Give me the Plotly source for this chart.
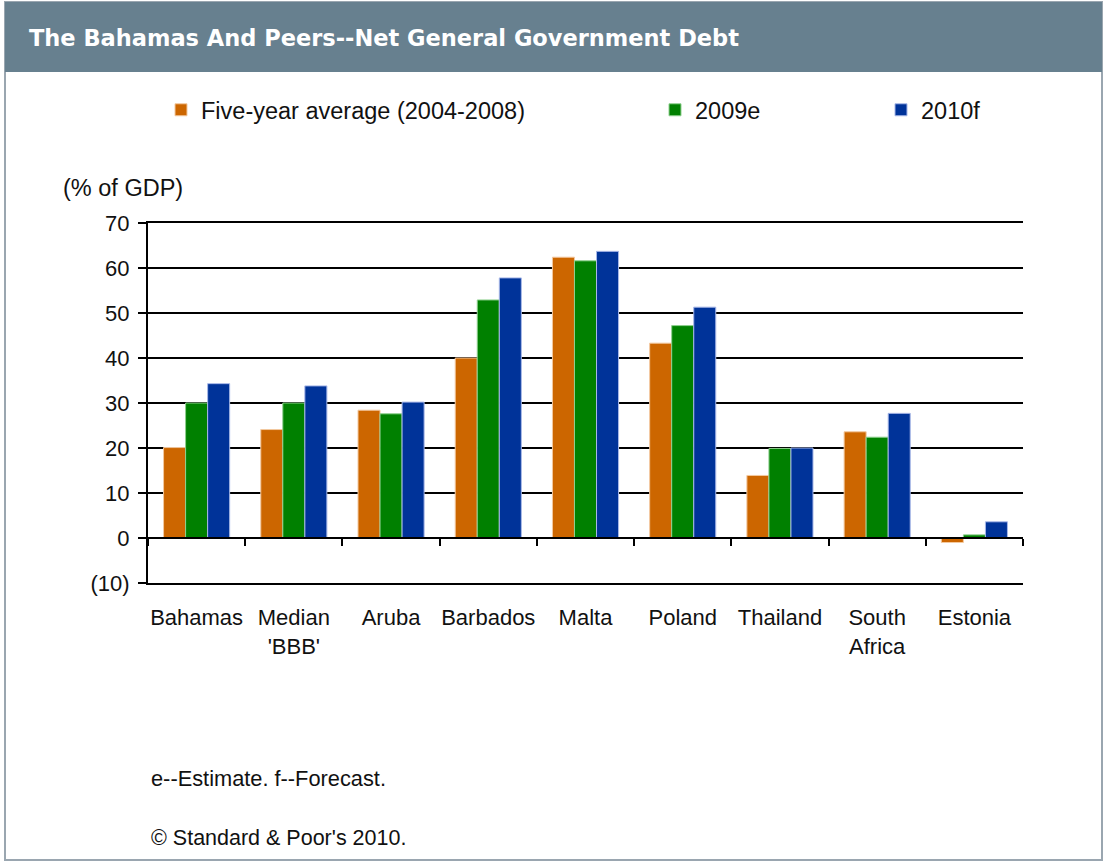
import plotly.graph_objects as go

categories = ["Bahamas", "Median 'BBB'", "Aruba", "Barbados", "Malta", "Poland", "Thailand", "South Africa", "Estonia"]
tick_labels = ["Bahamas", "Median<br>'BBB'", "Aruba", "Barbados", "Malta", "Poland", "Thailand", "South<br>Africa", "Estonia"]
five_year_avg = [20.1, 24.1, 28.4, 40.0, 62.4, 43.3, 13.9, 23.6, -1.0]
est_2009 = [30.0, 30.0, 27.6, 52.9, 61.6, 47.2, 19.9, 22.4, 0.7]
fcst_2010 = [34.3, 33.8, 30.2, 57.8, 63.7, 51.3, 20.0, 27.7, 3.6]
series_names = ["Five-year average (2004-2008)", "2009e", "2010f"]
series_colors = ["#cc6600", "#008000", "#003399"]
edge_colors = ["#f3c9a0", "#8fd08f", "#a8b8e8"]
y_ticks = [-10, 0, 10, 20, 30, 40, 50, 60, 70]
y_tick_text = ["(10)", "0", "10", "20", "30", "40", "50", "60", "70"]

FONT = "Liberation Sans, Arial, sans-serif"
W, H = 1105, 863
ML, MR, MT, MB = 148, 82, 223, 280
PW, PH = W - ML - MR, H - MT - MB

def px_x(p):
    return (p - ML) / PW

def px_y(p):
    return (H - MB - p) / PH

fig = go.Figure()
legend_names = ["legend", "legend2", "legend3"]
for vals, name, col, edge, lg in zip([five_year_avg, est_2009, fcst_2010], series_names, series_colors, edge_colors, legend_names):
    fig.add_trace(go.Bar(x=categories, y=vals, name=name, legend=lg,
                         marker=dict(color=col, line=dict(color=edge, width=1))))

# helper trace for the category axis at zero (boundary tick marks)
fig.add_trace(go.Scatter(x=categories, y=[0] * len(categories), xaxis="x2", mode="markers",
                         marker=dict(opacity=0), showlegend=False, hoverinfo="skip"))

leg_common = dict(orientation="h", font=dict(family=FONT, size=23.5, color="#111111"),
                  bgcolor="rgba(0,0,0,0)", yanchor="middle", xanchor="left")
fig.update_layout(
    width=W, height=H,
    margin=dict(l=ML, r=MR, t=MT, b=MB),
    paper_bgcolor="white", plot_bgcolor="white",
    barmode="group", bargap=0.32, bargroupgap=0,
    font=dict(family=FONT, size=21, color="#111111"),
    legend=dict(x=px_x(161), y=px_y(110), **leg_common),
    legend2=dict(x=px_x(655), y=px_y(110), **leg_common),
    legend3=dict(x=px_x(881), y=px_y(110), **leg_common),
    xaxis=dict(type="category", categoryorder="array", categoryarray=categories,
               tickmode="array", tickvals=categories, ticktext=tick_labels,
               showline=True, mirror=True, linecolor="black", linewidth=1.6,
               showgrid=False, ticks="outside", ticklen=14,
               tickcolor="rgba(0,0,0,0)", tickfont=dict(family=FONT, size=22, color="#111111"),
               fixedrange=True),
    xaxis2=dict(type="category", overlaying="x", matches="x", anchor="free", position=0.125,
                showticklabels=False, showline=True, linecolor="black", linewidth=2,
                ticks="outside", tickson="boundaries", ticklen=7, tickwidth=2, tickcolor="black",
                showgrid=False),
    yaxis=dict(range=[-10, 70], tickmode="array", tickvals=y_ticks, ticktext=y_tick_text,
               showgrid=True, gridcolor="black", gridwidth=1.6, zeroline=False,
               showline=True, linecolor="black", linewidth=2,
               ticks="outside", ticklen=8, tickwidth=2, tickcolor="black", ticklabelstandoff=4,
               tickfont=dict(family=FONT, size=22, color="#111111"), fixedrange=True),
    showlegend=True,
)

# header bar and frame
fig.add_shape(type="rect", xref="paper", yref="paper", x0=px_x(5), x1=px_x(1102), y0=px_y(860), y1=px_y(2),
              line=dict(color="#9aa6b0", width=2), fillcolor="rgba(0,0,0,0)", layer="below")
fig.add_shape(type="rect", xref="paper", yref="paper", x0=px_x(5), x1=px_x(1102), y0=px_y(72), y1=px_y(2),
              line=dict(width=0), fillcolor="#67808f", layer="below")

fig.add_annotation(text="<b>The Bahamas And Peers--Net General Government Debt</b>", xref="paper", yref="paper",
                   x=px_x(27), y=px_y(38), xanchor="left", yanchor="middle", showarrow=False,
                   font=dict(family="DejaVu Sans, sans-serif", size=22.5, color="white"))
fig.add_annotation(text="(% of GDP)", xref="paper", yref="paper", x=px_x(61), y=px_y(188),
                   xanchor="left", yanchor="middle", showarrow=False, font=dict(family=FONT, size=23.5, color="#111111"))
fig.add_annotation(text="e--Estimate. f--Forecast.", xref="paper", yref="paper", x=px_x(149), y=px_y(778),
                   xanchor="left", yanchor="middle", showarrow=False, font=dict(family=FONT, size=21.8, color="#111111"))
fig.add_annotation(text="© Standard & Poor's 2010.", xref="paper", yref="paper", x=px_x(149), y=px_y(838),
                   xanchor="left", yanchor="middle", showarrow=False, font=dict(family=FONT, size=21.5, color="#111111"))

fig.write_html("out.html")
